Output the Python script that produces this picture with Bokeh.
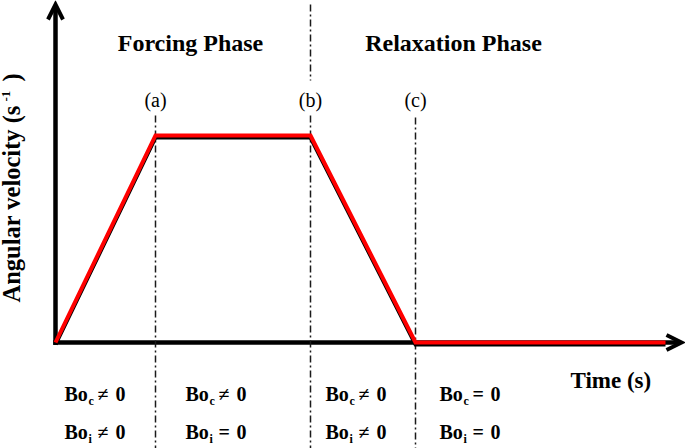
import math
from bokeh.plotting import figure
from bokeh.models import Range1d, Arrow, OpenHead
from bokeh.core.properties import value
from bokeh.embed import file_html
from bokeh.resources import INLINE

# ---------------- data ----------------
time_pts = [0.0, 1.0, 2.55, 3.6, 6.1]      # time (arbitrary units)
omega_pts = [0.0, 1.0, 1.0, 0.0, 0.0]      # angular velocity (arbitrary units)
event_labels = ["(a)", "(b)", "(c)"]
phase_names = ["Forcing Phase", "Relaxation Phase"]
bo_c_ops = ["\u2260", "\u2260", "\u2260", "="]
bo_i_ops = ["\u2260", "=", "\u2260", "="]
bo_values = ["0", "0", "0", "0"]
x_label = "Time (s)"
y_label_main = "Angular velocity (s"
y_label_sup = "-1"
y_label_end = ")"

# ---------------- layout (screen px) ----------------
OX, OY = 0, 0          # figure top-left on screen
W, H = 685, 448
X0, Y0 = 55, 342       # screen position of the origin
SX, SY = 100.0, 207.0  # px per data unit
K = 0.35               # baseline correction (fraction of font size)


def tx(px):
    return (px - X0) / SX


def vy(py):
    return (Y0 - py) / SY


def by(py, size):
    """data y for a text whose alphabetic baseline should sit at screen py"""
    return vy(py - K * size)


def bx(px, size):
    """data x for a 90deg-rotated text whose baseline should sit at screen px"""
    return tx(px - K * size)


p = figure(width=W, height=H,
           x_range=Range1d(tx(OX), tx(OX + W)),
           y_range=Range1d(vy(OY + H), vy(OY)),
           output_backend="svg", toolbar_location=None,
           x_axis_location=None, y_axis_location=None,
           min_border=0)
p.outline_line_color = None
p.xgrid.visible = False
p.ygrid.visible = False
p.background_fill_color = "white"
p.border_fill_color = "white"

SERIF = value("Liberation Serif")

# ---------------- axes with arrow heads ----------------
yarrow = Arrow(x_start=0, y_start=vy(344.5), x_end=0, y_end=vy(4),
               end=OpenHead(size=15, line_width=4, line_color="black", line_join="miter"),
               line_width=4.5, line_color="black", level="underlay")
xarrow = Arrow(x_start=tx(52.8), y_start=0, x_end=tx(681), y_end=0,
               end=OpenHead(size=15, line_width=4, line_color="black", line_join="miter"),
               line_width=4.5, line_color="black", level="underlay")
p.add_layout(yarrow)
p.add_layout(xarrow)

# ---------------- event dash-dot lines ----------------
ev_t = time_pts[1:4]
bottom = vy(OY + H)
seg_x = [ev_t[0], ev_t[1], ev_t[1], ev_t[2]]
seg_y0 = [vy(115), vy(4), vy(115), vy(117)]
seg_y1 = [bottom, vy(80), bottom, bottom]
p.segment(x0=seg_x, y0=seg_y0, x1=seg_x, y1=seg_y1,
          line_color="#1a1a1a", line_width=1.5, line_dash=value("7 3 2 3"))

# ---------------- velocity profile ----------------
shadow = [v - 2.0 / SY for v in omega_pts]
p.line(time_pts, shadow, line_color="black", line_width=4, line_join="miter")
p.line(time_pts, omega_pts, line_color="#ff0000", line_width=4, line_join="miter")

# ---------------- texts ----------------
p.text(x=ev_t, y=[by(106, 20)] * 3, text=event_labels,
       text_font=SERIF, text_font_size="20px", text_color="black",
       text_align="center", text_baseline="alphabetic")

p.text(x=[tx(190), tx(453)], y=[by(51, 24)] * 2, text=phase_names,
       text_font=SERIF, text_font_size="24px", text_font_style="bold",
       text_color="black", text_align="center", text_baseline="alphabetic")

p.text(x=[tx(570)], y=[by(388, 23)], text=[x_label],
       text_font=SERIF, text_font_size="23px", text_font_style="bold",
       text_color="black", text_align="left", text_baseline="alphabetic")

# rotated y label with superscript
p.text(x=[bx(20, 24.5)], y=[vy(302)], text=[y_label_main], angle=math.pi / 2,
       text_font=SERIF, text_font_size="24.5px", text_font_style="bold",
       text_color="black", text_align="left", text_baseline="alphabetic")
p.text(x=[bx(10.5, 13)], y=[vy(101)], text=[y_label_sup], angle=math.pi / 2,
       text_font=SERIF, text_font_size="13px", text_font_style="bold",
       text_color="black", text_align="left", text_baseline="alphabetic")
p.text(x=[bx(20, 24.5)], y=[vy(81)], text=[y_label_end], angle=math.pi / 2,
       text_font=SERIF, text_font_size="24.5px", text_font_style="bold",
       text_color="black", text_align="left", text_baseline="alphabetic")

# Bond number table
bo_x = [64, 185, 325, 439]
rows = [(400, "c", bo_c_ops), (438, "i", bo_i_ops)]
for base, sub, ops in rows:
    p.text(x=[tx(b) for b in bo_x], y=[by(base, 20)] * 4, text=["Bo"] * 4,
           text_font=SERIF, text_font_size="20px", text_font_style="bold",
           text_color="black", text_align="left", text_baseline="alphabetic")
    p.text(x=[tx(b + 24) for b in bo_x], y=[by(base + 5, 12)] * 4, text=[sub] * 4,
           text_font=SERIF, text_font_size="12px", text_font_style="bold",
           text_color="black", text_align="left", text_baseline="alphabetic")
    p.text(x=[tx(b + 33) for b in bo_x], y=[by(base, 20)] * 4, text=ops,
           text_font=SERIF, text_font_size="20px", text_font_style="bold",
           text_color="black", text_align="left", text_baseline="alphabetic")
    p.text(x=[tx(b + 51) for b in bo_x], y=[by(base, 20)] * 4, text=bo_values,
           text_font=SERIF, text_font_size="20px", text_font_style="bold",
           text_color="black", text_align="left", text_baseline="alphabetic")

open("out.html", "w").write(file_html(p, INLINE))
